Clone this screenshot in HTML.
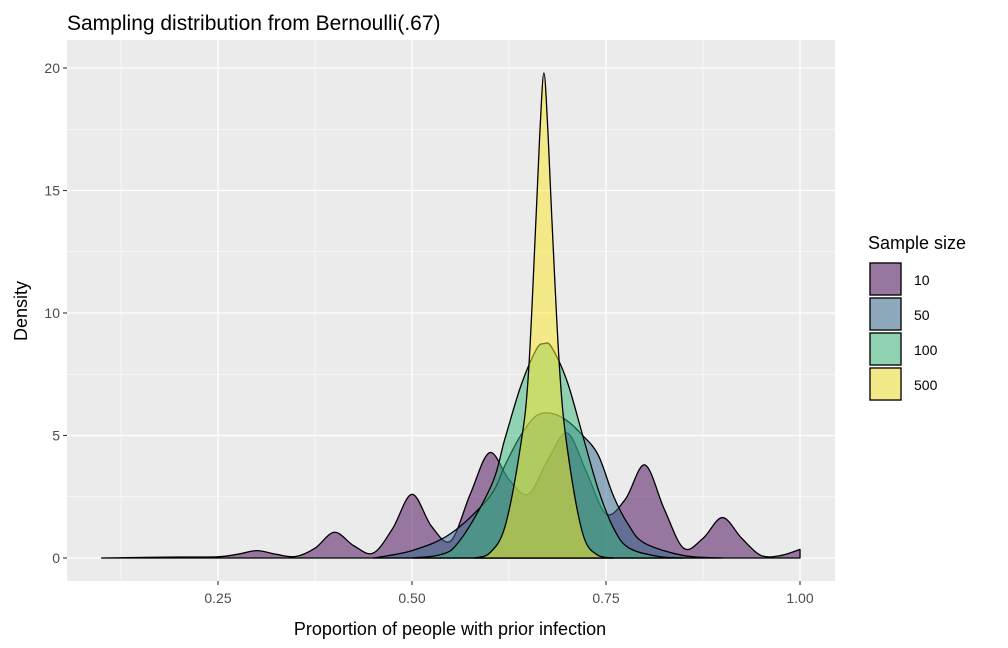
<!DOCTYPE html>
<html><head><meta charset="utf-8">
<style>
body{margin:0;background:#fff;}
svg{display:block;font-family:"Liberation Sans",Arial,sans-serif;}
</style></head>
<body>
<svg id="chart" width="1008" height="648" viewBox="0 0 1008 648">
<rect x="0" y="0" width="1008" height="648" fill="#fff"/>
<text x="67" y="30" font-size="21" fill="#000">Sampling distribution from Bernoulli(.67)</text>
<rect x="67" y="40" width="768" height="541" fill="#EBEBEB"/>
<g id="grid"></g>
<g id="series"></g>
<g id="axes"></g>
<text x="450" y="635" font-size="18" text-anchor="middle">Proportion of people with prior infection</text>
<text x="27" y="311" font-size="18" text-anchor="middle" transform="rotate(-90 27 311)">Density</text>
<g id="legend"></g>
</svg>
<script>
const xTicks=[0.25,0.5,0.75,1.0];
const xTickLabels=["0.25","0.50","0.75","1.00"];
const yTicks=[0,5,10,15,20];
const yTickLabels=["0","5","10","15","20"];
const groups=["10","50","100","500"];
const colors=["#440154","#31688E","#35B779","#FDE725"];
const x10=[0.10,0.20,0.25,0.275,0.30,0.325,0.35,0.375,0.40,0.425,0.45,0.475,0.50,0.525,0.55,0.575,0.60,0.625,0.65,0.675,0.70,0.725,0.75,0.775,0.80,0.825,0.85,0.875,0.90,0.925,0.95,0.975,1.00];
const y10=[0,0.04,0.05,0.15,0.3,0.15,0.06,0.4,1.05,0.5,0.2,1.2,2.6,1.3,0.7,2.6,4.3,3.2,2.6,4.0,5.1,3.5,1.8,2.4,3.8,2.0,0.4,0.8,1.65,0.8,0.1,0.1,0.35];
const x50=[0.45,0.50,0.55,0.60,0.62,0.64,0.66,0.68,0.70,0.72,0.74,0.76,0.78,0.80,0.85,0.90];
const y50=[0,0.3,1.0,2.5,3.8,5.0,5.8,5.9,5.6,5.0,4.2,2.5,1.3,0.6,0.1,0];
const x100=[0.50,0.55,0.60,0.62,0.64,0.66,0.67,0.68,0.70,0.72,0.74,0.76,0.78,0.82,0.85];
const y100=[0,0.3,2.8,4.9,7.0,8.5,8.75,8.6,7.2,5.0,2.8,1.2,0.4,0.05,0];
const x500=[0.58,0.60,0.62,0.64,0.65,0.66,0.665,0.67,0.675,0.68,0.69,0.70,0.72,0.74,0.76];
const y500=[0,0.2,1.3,4.6,7.5,14,17.5,19.8,17.5,14,7.8,4.5,1.0,0.1,0];
const seriesX=[x10,x50,x100,x500];
const seriesY=[y10,y50,y100,y500];

const NS="http://www.w3.org/2000/svg";
const L=67,R=835,T=40,B=581;
function sx(v){return 24+v*776;}
function sy(v){return 558-v*24.5;}
function mk(tag,attrs,parent){const e=document.createElementNS(NS,tag);for(const k in attrs)e.setAttribute(k,attrs[k]);parent.appendChild(e);return e;}
const grid=document.getElementById('grid');
for(let i=0;i<xTicks.length;i++){
  const m=mk('line',{x1:sx(xTicks[i]-0.125),x2:sx(xTicks[i]-0.125),y1:T,y2:B,stroke:'#fff','stroke-width':0.6},grid);
  
  
  const g=mk('line',{x1:sx(xTicks[i]),x2:sx(xTicks[i]),y1:T,y2:B,stroke:'#fff','stroke-width':1.3},grid);
  
  
}
for(let i=0;i<yTicks.length;i++){
  if(i>0){const m=mk('line',{x1:L,x2:R,y1:sy(yTicks[i]-2.5),y2:sy(yTicks[i]-2.5),stroke:'#fff','stroke-width':0.6},grid);
  
  }
  const g=mk('line',{x1:L,x2:R,y1:sy(yTicks[i]),y2:sy(yTicks[i]),stroke:'#fff','stroke-width':1.3},grid);
  
  
}
const axes=document.getElementById('axes');
for(let i=0;i<xTicks.length;i++){
  mk('line',{x1:sx(xTicks[i]),x2:sx(xTicks[i]),y1:B,y2:B+4,stroke:'#333','stroke-width':1.1},axes);
  const t=mk('text',{x:sx(xTicks[i]),y:B+22,'font-size':14,fill:'#4D4D4D','text-anchor':'middle'},axes);
  t.textContent=xTickLabels[i];
  
  
}
for(let i=0;i<yTicks.length;i++){
  mk('line',{x1:L-4,x2:L,y1:sy(yTicks[i]),y2:sy(yTicks[i]),stroke:'#333','stroke-width':1.1},axes);
  const t=mk('text',{x:L-7,y:sy(yTicks[i])+5,'font-size':14,fill:'#4D4D4D','text-anchor':'end'},axes);
  t.textContent=yTickLabels[i];
  
  
}
function smooth(pts){
  let d='M'+pts[0][0]+','+pts[0][1];
  const base=sy(0);
  for(let i=0;i<pts.length-1;i++){
    const p0=pts[Math.max(0,i-1)],p1=pts[i],p2=pts[i+1],p3=pts[Math.min(pts.length-1,i+2)];
    let c1y=p1[1]+(p2[1]-p0[1])/6,c2y=p2[1]-(p3[1]-p1[1])/6;
    c1y=Math.min(c1y,base);c2y=Math.min(c2y,base);
    d+=' C'+(p1[0]+(p2[0]-p0[0])/6)+','+c1y+' '+(p2[0]-(p3[0]-p1[0])/6)+','+c2y+' '+p2[0]+','+p2[1];
  }
  return d;
}
const ser=document.getElementById('series');
for(let s=0;s<groups.length;s++){
  const pts=seriesX[s].map((v,i)=>[sx(v),sy(seriesY[s][i])]);
  const last=pts[pts.length-1],first=pts[0];
  const d=smooth(pts)+' L'+last[0]+','+sy(0)+' L'+first[0]+','+sy(0)+' Z';
  const p=mk('path',{d:d,fill:colors[s],'fill-opacity':0.5,stroke:'#000','stroke-width':1.3,'stroke-linejoin':'round'},ser);
  
  
}
const leg=document.getElementById('legend');
const lt=mk('text',{x:868,y:249,'font-size':18},leg);
lt.textContent='Sample size';


for(let s=0;s<groups.length;s++){
  const y0=262+s*35;
  mk('rect',{x:869,y:y0,width:33,height:34,fill:'#EBEBEB'},leg);
  const r=mk('rect',{x:870,y:y0+1,width:31,height:32,fill:colors[s],'fill-opacity':0.5,stroke:'#000','stroke-width':1.3},leg);
  
  
  const t=mk('text',{x:914,y:y0+23,'font-size':14},leg);
  t.textContent=groups[s];
  
  
}
</script>
</body></html>
